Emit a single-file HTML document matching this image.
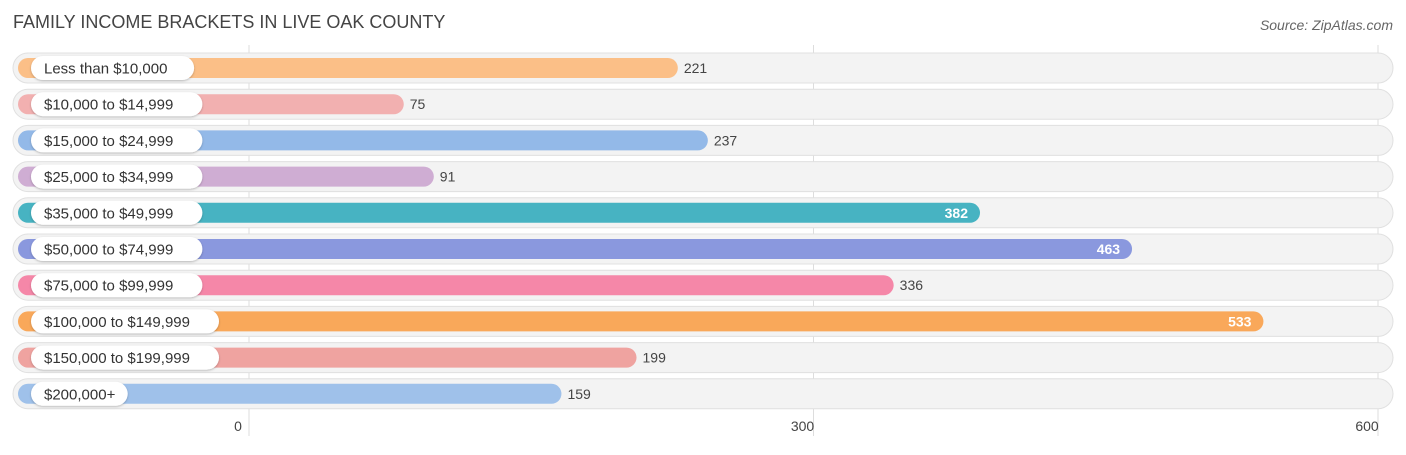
<!DOCTYPE html>
<html><head><meta charset="utf-8"><style>
body{margin:0;background:#fff;font-family:"Liberation Sans",sans-serif;}
</style></head><body>
<svg id="c" width="1406" height="450" xmlns="http://www.w3.org/2000/svg">
<defs><filter id="sh" x="-10%" y="-30%" width="120%" height="160%"><feDropShadow dx="0" dy="1" stdDeviation="1" flood-color="#000" flood-opacity="0.25"/></filter></defs>
<text x="13" y="28" font-size="18" fill="#444">FAMILY INCOME BRACKETS IN LIVE OAK COUNTY</text>
<text x="1393" y="30" font-size="14" fill="#666" font-style="italic" text-anchor="end">Source: ZipAtlas.com</text>
<g id="grid"></g><g id="rows"></g><g id="ticks"></g>
</svg>
<script>
const categories=["Less than $10,000","$10,000 to $14,999","$15,000 to $24,999","$25,000 to $34,999","$35,000 to $49,999","$50,000 to $74,999","$75,000 to $99,999","$100,000 to $149,999","$150,000 to $199,999","$200,000+"];
const values=[221,75,237,91,382,463,336,533,199,159];
const colors=["#fbbf87","#f2b0b0","#93b9e8","#cfadd3","#47b3c2","#8a98de","#f587a8","#f9a85a","#efa3a0","#9fc1ea"];
const tickValues=[0,300,600];
const NS="http://www.w3.org/2000/svg";
const x=v=>249+v*1.8817;
const barEnd=v=>263+v*1.877;
const yc=i=>68+i*36.2;
function mk(t,a,p){const e=document.createElementNS(NS,t);for(const k in a)e.setAttribute(k,a[k]);p.appendChild(e);return e;}
const grid=document.getElementById('grid'),rows=document.getElementById('rows'),ticks=document.getElementById('ticks');
tickValues.forEach(t=>{
 const l=mk('line',{x1:x(t),x2:x(t),y1:45,y2:436,stroke:'#ddd','stroke-width':1},grid);
 
 
 const tx=mk('text',{x:x(t)-11,y:431,'font-size':14,fill:'#444','text-anchor':'middle'},ticks);
 tx.textContent=t;
 
 
});
categories.forEach((c,i)=>{
 const y=yc(i);
 const g=mk('g',{},rows);
 
 
 const bg=mk('rect',{x:13,y:y-15,width:1380,height:30,rx:15,fill:'#f3f3f3',stroke:'#e0e0e0','stroke-width':1},g);
 
 
 const w=barEnd(values[i])-18;
 const b=mk('rect',{x:18,y:y-10,width:w,height:20,rx:10,fill:colors[i]},g);
 
 
 const lw=c.length*8.3+22;
 const p=mk('rect',{x:31,y:y-12,width:lw,height:24,rx:12,fill:'#fff',filter:'url(#sh)'},g);
 
 
 const lt=mk('text',{x:44,y:y+5.5,'font-size':15,fill:'#333'},g);
 lt.textContent=c;
 
 
 const inside=values[i]>350;
 const vt=mk('text',{x:inside?barEnd(values[i])-12:barEnd(values[i])+6,y:y+5,'font-size':14,fill:inside?'#fff':'#444','text-anchor':inside?'end':'start','font-weight':inside?'bold':'normal'},g);
 vt.textContent=values[i];
 
 
});
</script>
</body></html>
